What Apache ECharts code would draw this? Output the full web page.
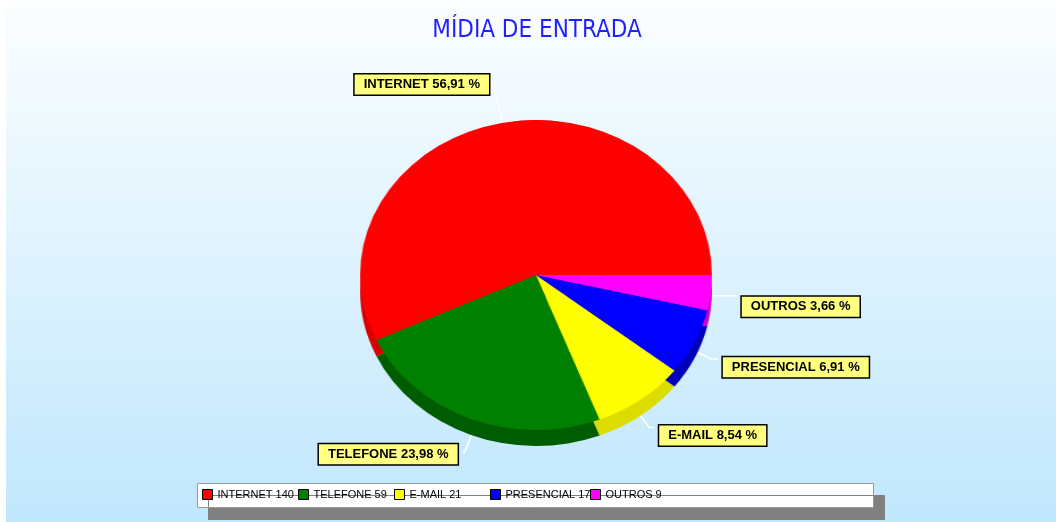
<!DOCTYPE html>
<html>
<head>
<meta charset="utf-8">
<script src="https://cdn.jsdelivr.net/npm/echarts@6/dist/echarts.min.js"></script>
<style>
html,body{margin:0;padding:0;background:#fff;}
#wrap{position:relative;width:1056px;height:522px;overflow:hidden;}
#base,#pizza{position:absolute;left:0;top:0;width:1056px;height:522px;}
/* a pizza é esticada na horizontal para ficar elíptica como no original */
#pizza{transform:scaleX(1.135);transform-origin:536px 0;pointer-events:none;}
</style>
</head>
<body>
<div id="wrap">
<div id="base"></div>
<div id="pizza"></div>
</div>
<script>
// dados do gráfico
var categorias = ['INTERNET', 'TELEFONE', 'E-MAIL', 'PRESENCIAL', 'OUTROS'];
var valores = [140, 59, 21, 17, 9];
var cores = ['#ff0000', '#008000', '#ffff00', '#0000ff', '#ff00ff'];
var coresLado = ['#d80000', '#005c00', '#dcdc00', '#0000b8', '#c800c8'];

// linhas de rótulo: comprimento radial, horizontal e ajuste vertical
var linhas = [[40, 0, 0], [36, 2, 2], [35, 5, 8], [40, 6, 8], [25, 22, 11]];
// posição horizontal de cada item da legenda
var legendaX = [202, 298, 394, 490, 590];

var dados = [];
var dadosLado = [];
for (var i = 0; i < categorias.length; i++) {
	dados.push({
		name: categorias[i], value: valores[i],
		itemStyle: {color: cores[i]},
		labelLine: {length: linhas[i][0], length2: linhas[i][1]}
	});
	dadosLado.push({name: categorias[i], value: valores[i], itemStyle: {color: coresLado[i]}});
}

var fonte = '"Liberation Sans", Arial, sans-serif';

// uma legenda por item, em colunas
var legendas = [];
for (var j = 0; j < categorias.length; j++) {
	legendas.push({
		left: legendaX[j],
		top: 489,
		data: [categorias[j]],
		padding: 0,
		itemWidth: 10,
		itemHeight: 10,
		itemTextGap: 3,
		icon: 'rect',
		itemStyle: {borderColor: '#000', borderWidth: 1},
		textStyle: {color: '#000', fontFamily: fonte, fontSize: 11},
		formatter: function (name) {
			return name + ' ' + valores[categorias.indexOf(name)];
		}
	});
}

/* grafico de base: fundo, titulo, legenda e rotulos */
var baseChart = echarts.init(document.getElementById('base'));
var optionBase = {
	backgroundColor: '#ffffff',
	animation: false,
	graphic: [{
		type: 'rect',
		z: -10,
		shape: {x: 6, y: 0, width: 1050, height: 522},
		style: {
			fill: new echarts.graphic.LinearGradient(0, 0, 0, 1, [
				{offset: 0, color: '#fcfeff'},
				{offset: 1, color: '#c0e7fd'}
			])
		}
	}, {
		// caixa da legenda com sombra
		type: 'rect',
		z: -5,
		shape: {x: 197.5, y: 483.5, width: 676, height: 24},
		style: {
			fill: '#ffffff',
			stroke: '#999999',
			lineWidth: 1,
			shadowColor: '#808080',
			shadowBlur: 0,
			shadowOffsetX: 11,
			shadowOffsetY: 12
		}
	}],
	title: {
		text: 'MÍDIA DE ENTRADA',
		left: 532,
		textAlign: 'center',
		top: 14,
		textStyle: {
			color: '#1f1fff',
			fontFamily: '"Liberation Sans Narrow", "DejaVu Sans Condensed", sans-serif',
			fontSize: 24,
			fontWeight: 'normal'
		}
	},
	legend: legendas,
	series: [{
		name: 'MÍDIA',
		type: 'pie',
		center: [536, 275],
		radius: [0, 155],
		startAngle: 0,
		clockwise: false,
		avoidLabelOverlap: false,
		emphasis: {disabled: true},
		itemStyle: {borderWidth: 0},
		label: {
			show: true,
			formatter: function (p) {
				return p.name + ' ' + p.percent.toFixed(2).replace('.', ',') + ' %';
			},
			color: '#000',
			fontFamily: fonte,
			fontSize: 13,
			fontWeight: 'bold',
			backgroundColor: '#ffff80',
			borderColor: '#000',
			borderWidth: 1.5,
			padding: [4, 9, 3, 9]
		},
		labelLine: {
			show: true,
			lineStyle: {color: '#ffffff', width: 1.5}
		},
		labelLayout: function (p) {
			return {dy: linhas[p.dataIndex][2]};
		},
		data: dados
	}]
};
baseChart.setOption(optionBase);

/* pizza com lateral escura (efeito 3D), desenhada por cima */
var pizzaChart = echarts.init(document.getElementById('pizza'));
var optionPizza = {
	backgroundColor: 'transparent',
	animation: false,
	series: [{
		name: 'MÍDIA',
		type: 'pie',
		z: 3,
		silent: true,
		center: [536, 275],
		radius: [0, 155],
		startAngle: 0,
		clockwise: false,
		emphasis: {disabled: true},
		itemStyle: {borderWidth: 0},
		label: {show: false},
		labelLine: {show: false},
		data: dados
	}, {
		name: 'lado',
		type: 'pie',
		z: 1,
		silent: true,
		center: [536, 291],
		radius: [0, 155],
		startAngle: 0,
		clockwise: false,
		emphasis: {disabled: true},
		label: {show: false},
		labelLine: {show: false},
		data: dadosLado
	}]
};
pizzaChart.setOption(optionPizza);
</script>
</body>
</html>
